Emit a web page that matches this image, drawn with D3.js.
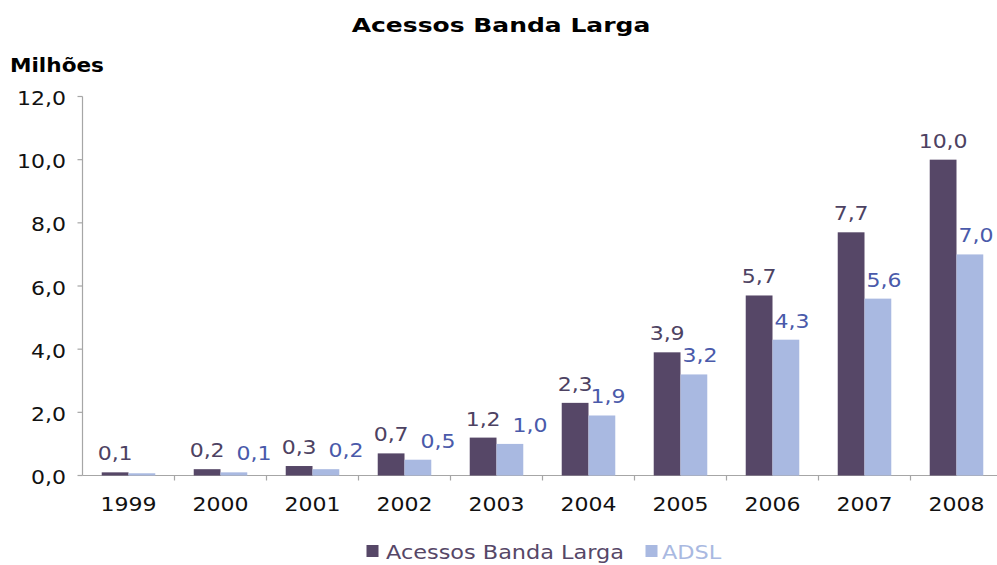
<!DOCTYPE html>
<html>
<head>
<meta charset="utf-8">
<script src="https://cdn.jsdelivr.net/npm/d3@7"></script>
<style>
  html, body { margin: 0; padding: 0; background: #fff; }
  svg { display: block; font-family: "DejaVu Sans", Verdana, sans-serif; }
</style>
</head>
<body>
<svg id="chart" width="997" height="565"></svg>
<script>
const years = ["1999","2000","2001","2002","2003","2004","2005","2006","2007","2008"];
const banda = [0.1, 0.2, 0.3, 0.7, 1.2, 2.3, 3.9, 5.7, 7.7, 10.0];
const adsl = [0.07, 0.1, 0.2, 0.5, 1.0, 1.9, 3.2, 4.3, 5.6, 7.0];
const adslLabels = [null, "0,1", "0,2", "0,5", "1,0", "1,9", "3,2", "4,3", "5,6", "7,0"];
const bandaLabels = ["0,1", "0,2", "0,3", "0,7", "1,2", "2,3", "3,9", "5,7", "7,7", "10,0"];
const yTicks = [0, 2, 4, 6, 8, 10, 12];
const seriesNames = ["Acessos Banda Larga", "ADSL"];
const title = "Acessos Banda Larga";
const unitLabel = "Milhões";

const colors = ["#564767", "#a9b9e1"];
const labelColors = ["#4d4262", "#4a5aaa"];
const SX = 1.1;
const FS = 20;
const fmt = v => v.toFixed(1).replace(".", ",");

const svg = d3.select("#chart");

function stext(parent, x, y, str, opts) {
  const s = opts.scale || SX;
  return parent.append("text")
    .attr("transform", `translate(${x},${y}) scale(${s},1)`)
    .attr("text-anchor", opts.anchor || "start")
    .attr("font-size", opts.size || FS)
    .attr("font-weight", opts.weight || "normal")
    .attr("fill", opts.fill || "#111")
    .text(str);
}

const x0 = d3.scaleBand().domain(years).range([82.5, 1002.5]).paddingInner(0.418).paddingOuter(0.209);
const x1 = d3.scaleBand().domain([0, 1]).range([0, x0.bandwidth()]);
const y = d3.scaleLinear().domain([0, 12]).range([475.5, 96.5]);

// Title
stext(svg, 501, 32, title, {anchor: "middle", size: 20, weight: "bold", scale: 1.25, fill: "#000"});
stext(svg, 10, 72, unitLabel, {size: 20, weight: "bold", scale: 1.08, fill: "#000"});

// Y axis
const yAxisG = svg.append("g").attr("transform", "translate(82.5,0)");
yAxisG.append("line").attr("x1", 0).attr("x2", 0).attr("y1", y(12)).attr("y2", y(0)).attr("stroke", "#a6a6a6").attr("stroke-width", 1.2);
yTicks.forEach(t => {
  yAxisG.append("line").attr("x1", -5).attr("x2", 0).attr("y1", y(t)).attr("y2", y(t)).attr("stroke", "#a6a6a6").attr("stroke-width", 1.2);
  stext(svg, 66, y(t) + 8.5, fmt(t), {anchor: "end", fill: "#111"});
});

// X axis
const xAxisG = svg.append("g");
xAxisG.append("line").attr("x1", 82.5).attr("x2", 1002.5).attr("y1", y(0)).attr("y2", y(0)).attr("stroke", "#a6a6a6").attr("stroke-width", 1.2);
years.forEach((yr, i) => {
  const left = x0(yr) - x0.step() * x0.paddingInner() / 2;
  if (i > 0) {
    xAxisG.append("line").attr("x1", left).attr("x2", left).attr("y1", y(0)).attr("y2", y(0) + 5).attr("stroke", "#a6a6a6").attr("stroke-width", 1.2);
  }
  stext(svg, x0(yr) + x0.bandwidth() / 2, 511, yr, {anchor: "middle", fill: "#111"});
});

// Bars
const seriesVals = [banda, adsl];
seriesVals.forEach((vals, s) => {
  svg.append("g").selectAll("rect").data(vals).join("rect")
    .attr("x", (d, i) => x0(years[i]) + x1(s))
    .attr("width", x1.bandwidth())
    .attr("y", d => y(d))
    .attr("height", d => y(0) - y(d))
    .attr("fill", colors[s]);
});

// Value labels
const labG = svg.append("g");
years.forEach((yr, i) => {
  const cx0 = x0(yr) + x1(0) + x1.bandwidth() / 2;
  const by0 = y(banda[i]) - 12;
  const t0 = stext(labG, cx0, by0, bandaLabels[i], {anchor: "middle", fill: labelColors[0]});
  if (adslLabels[i] == null) return;
  const cx1 = x0(yr) + x1(1) + x1.bandwidth() / 2 + 6;
  const by1 = y(adsl[i]) - 12;
  const t1 = stext(labG, cx1, by1, adslLabels[i], {anchor: "middle", fill: labelColors[1]});
  const b0 = t0.node().getBBox();
  const b1 = t1.node().getBBox();
  const w0 = b0.width * SX, w1 = b1.width * SX;
  if (Math.abs(by1 - by0) < 12) {
    const right0 = cx0 + w0 / 2;
    const left1 = cx1 - w1 / 2;
    if (left1 < right0 + 12) {
      const ncx = right0 + 12 + w1 / 2;
      t1.attr("transform", `translate(${ncx},${by1}) scale(${SX},1)`);
    }
  }
});

// Legend
const leg = svg.append("g");
leg.append("rect").attr("x", 366.5).attr("y", 545).attr("width", 12).attr("height", 12).attr("fill", colors[0]);
stext(leg, 386, 558.5, seriesNames[0], {fill: colors[0], scale: 1.12});
leg.append("rect").attr("x", 645.5).attr("y", 545).attr("width", 12).attr("height", 12).attr("fill", colors[1]);
stext(leg, 662, 558.5, seriesNames[1], {fill: colors[1], scale: 1.12});
</script>
</body>
</html>
